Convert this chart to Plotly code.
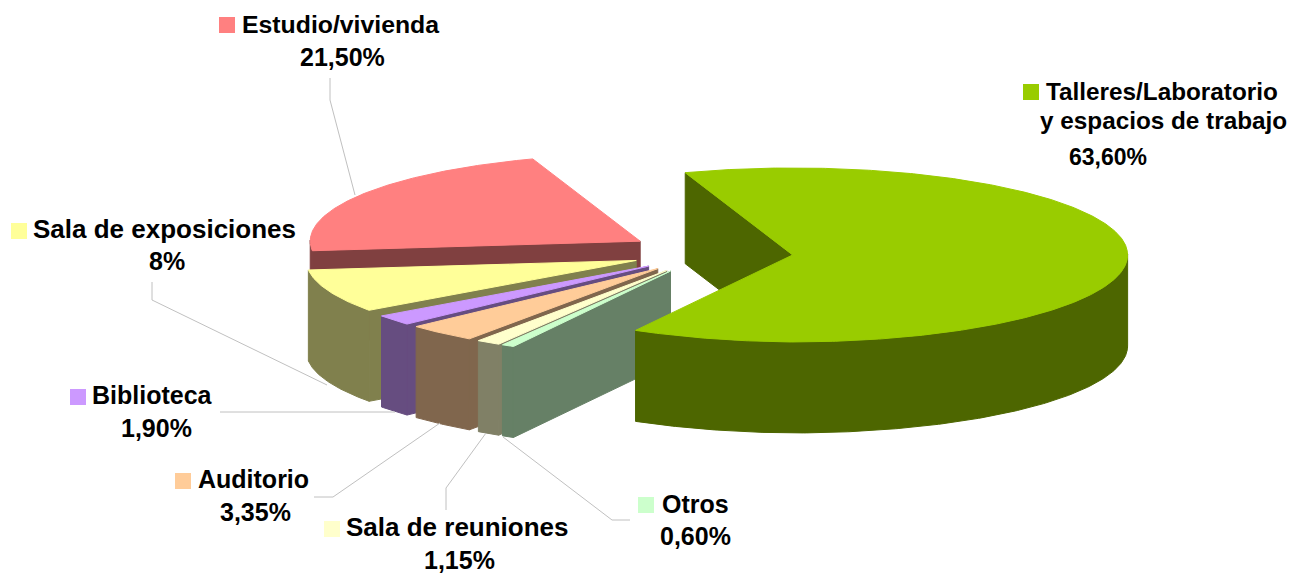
import math
import plotly.graph_objects as go

categories = ["Talleres/Laboratorio", "Otros", "Sala de reuniones", "Auditorio",
              "Biblioteca", "Sala de exposiciones", "Estudio/vivienda"]
values = [63.60, 0.60, 1.15, 3.35, 1.90, 8.0, 21.50]
value_labels = ["63,60%", "0,60%", "1,15%", "3,35%", "1,90%", "8%", "21,50%"]
top_colors = ["#99CC00", "#CCFFCC", "#FFFFCC", "#FFCC99", "#CC99FF", "#FFFF99", "#FF8080"]
side_colors = ["#4D6600", "#668066", "#808066", "#80664D", "#664D80", "#80804D", "#804040"]
pulls = [81, 81, 81, 81, 81, 81, 85]

# 3-D projection of the pie
CX, CY, RX, RY = 712, 253, 335, 87
DEPTH, START, WARP = 91, 109, 1.5

# label layout: key square, text lines (text, x, y, font size)
label_layout = {
    "Talleres/Laboratorio": dict(key=(1031, 92), lines=[("Talleres/Laboratorio", 1162, 91, 24.3), ("y espacios de trabajo", 1163, 120, 24.3), ("63,60%", 1108, 157, 23)]),
    "Otros": dict(key=(646, 505), lines=[("Otros", 695, 504, 25), ("0,60%", 695, 536, 25)]),
    "Sala de reuniones": dict(key=(332, 529), lines=[("Sala de reuniones", 457, 527, 26), ("1,15%", 459, 560, 25)]),
    "Auditorio": dict(key=(183, 481), lines=[("Auditorio", 253, 479, 25), ("3,35%", 255, 512, 25)]),
    "Biblioteca": dict(key=(78, 397), lines=[("Biblioteca", 152, 395, 25), ("1,90%", 156, 428, 25)]),
    "Sala de exposiciones": dict(key=(19, 231), lines=[("Sala de exposiciones", 164, 229, 26), ("8%", 167, 261, 25)]),
    "Estudio/vivienda": dict(key=(227, 25), lines=[("Estudio/vivienda", 340, 24, 24.8), ("21,50%", 342, 57, 25)]),
}
leaders = [
    [(330, 78), (330, 100), (355, 195)],
    [(152, 282), (152, 300), (327, 385)],
    [(220, 412), (395, 412)],
    [(314, 497), (333, 497), (440, 423)],
    [(446, 510), (446, 488), (486, 433)],
    [(630, 520), (612, 520), (503, 437)],
]

fig = go.Figure()
total = sum(values)


def rim(cx, cy, deg):
    r = math.radians(deg)
    if math.sin(r) < 0:
        r = math.radians(deg + WARP * -math.sin(r))
    c, s = math.cos(r), math.sin(r)
    rx = RX * (0.985 if c < 0 else 1)
    ry = RY * (1 - 0.03 * -c if c < 0 and s < 0 else 1)
    return cx + rx * c, cy - ry * s


def poly(pts, fill):
    fig.add_trace(go.Scatter(x=[p[0] for p in pts] + [pts[0][0]], y=[p[1] for p in pts] + [pts[0][1]],
                             mode="lines", fill="toself", fillcolor=fill,
                             line=dict(color=fill, width=1), hoverinfo="skip", showlegend=False))


# angular extents, clockwise from START
slices = []
a = START
for v in values:
    b = a - v / total * 360
    slices.append((a, b))
    a = b

# paint from the back slice to the front one, the big slice last
for i in [6, 5, 4, 3, 2, 1, 0]:
    hi, lo = slices[i]
    mid = math.radians((hi + lo) / 2)
    cx = CX + pulls[i] * math.cos(mid)
    cy = CY - pulls[i] * RY / RX * math.sin(mid)
    steps = max(int(hi - lo), 2) * 2
    arc = [hi - (hi - lo) * k / steps for k in range(steps + 1)]
    # visible radial face
    ex, ey = rim(cx, cy, hi)
    poly([(cx, cy), (ex, ey), (ex, ey + DEPTH), (cx, cy + DEPTH)], side_colors[i])
    # outer wall
    wall = [t for t in arc if math.sin(math.radians(t)) <= 0.02]
    if len(wall) > 1:
        upper = [rim(cx, cy, t) for t in wall]
        lower = [(x, y + DEPTH) for x, y in reversed(upper)]
        poly(upper + lower, side_colors[i])
    # top
    poly([(cx, cy)] + [rim(cx, cy, t) for t in arc], top_colors[i])

# leader lines
for pts in leaders:
    fig.add_trace(go.Scatter(x=[p[0] for p in pts], y=[p[1] for p in pts], mode="lines",
                             line=dict(color="#C0C0C0", width=1), hoverinfo="skip", showlegend=False))

# key squares and labels
fig.add_trace(go.Scatter(x=[label_layout[c]["key"][0] for c in categories],
                         y=[label_layout[c]["key"][1] for c in categories],
                         mode="markers", marker=dict(symbol="square", size=16, color=top_colors, line=dict(width=0)),
                         hoverinfo="skip", showlegend=False))
for c in categories:
    for text, x, y, size in label_layout[c]["lines"]:
        fig.add_annotation(x=x, y=y, text=f"<b>{text}</b>", showarrow=False, xanchor="center", yanchor="middle",
                           font=dict(family="Liberation Sans, Arial, sans-serif", size=size, color="#000000"))

fig.update_layout(width=1300, height=574, margin=dict(l=0, r=0, t=0, b=0),
                  paper_bgcolor="white", plot_bgcolor="white", showlegend=False,
                  xaxis=dict(range=[0, 1300], visible=False, fixedrange=True),
                  yaxis=dict(range=[574, 0], visible=False, fixedrange=True))
fig.write_html("out.html", post_script="document.body.style.margin='0';", config=dict(displayModeBar=False))
